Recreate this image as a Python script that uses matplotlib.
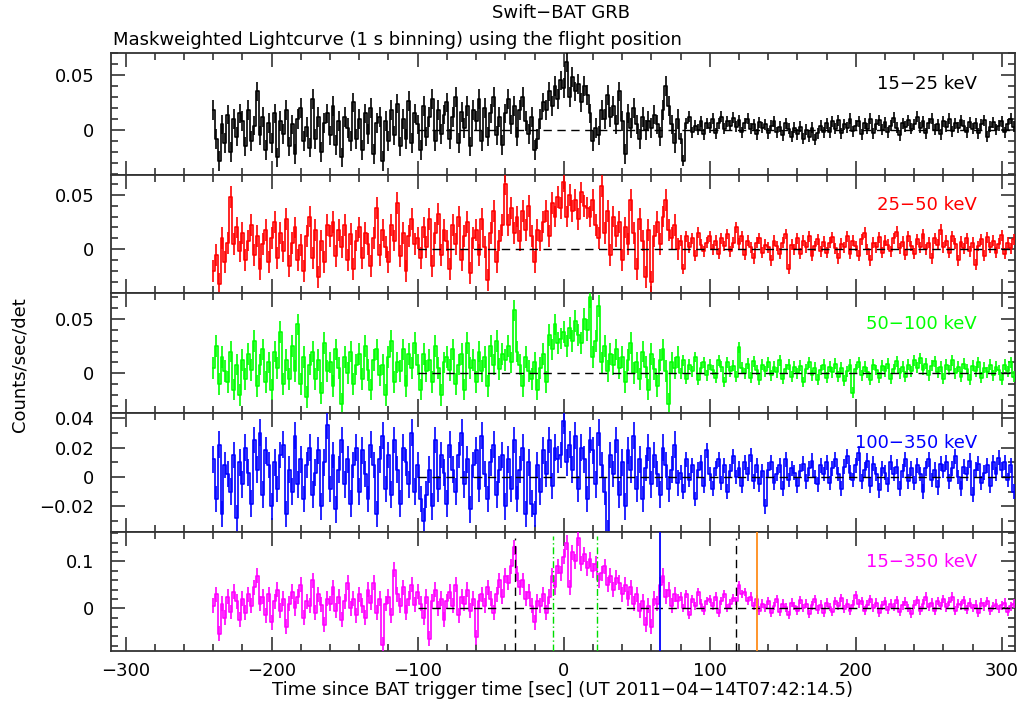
import matplotlib
matplotlib.use('Agg')
import matplotlib.pyplot as plt
from matplotlib.ticker import MultipleLocator
import numpy as np

# ---------------- data (rates in units of 1e-3 counts/sec/det, 2 s bins from -240 s) ----------------
t_first = -240
bin_sec = 2

band_15_25 = [
    18, -8, -28, 5, -12, 14, -20, 10, -6, 15,
    8, -15, 18, -10, 4, 35, -5, 12, -18, 6,
    -12, 15, -25, 8, -4, 18, -15, 5, -22, 10,
    20, -10, 3, -16, 28, -8, 12, -20, 6, 15,
    -5, 22, -14, 8, -25, 12, 2, -10, 25, -8,
    10, -18, 15, -4, 20, -22, 6, 12, -28, 8,
    -10, 18, -5, 24, -15, 10, -8, 26, -12, 15,
    5, -18, 22, -6, 12, 28, -10, 18, -4, 14,
    25, -8, 12, 30, -12, 16, 2, 22, -15, 18,
    8, 28, -10, 20, -6, 15, 30, -5, 12, -14,
    15, 28, 5, 22, -6, 18, 30, 8, -4, 12,
    -18, -8, 10, 25, 18, 35, 22, 40, 28, 45,
    38, 62, 30, 48, 35, 42, 25, 40, 32, 15,
    -10, 2, -5, 18, 10, 32, 12, 22, 5, 35,
    8, -22, 15, 2, 20, 5, -8, 12, 0, 8,
    2, 14, 5, -6, 18, 40, 22, 5, -12, 10,
    -8, -28, 6, 12, -2, 4, 0, 8, -4, 6,
    2, 10, -3, 6, 12, 1, 8, 4, 11, 3,
    9, -2, 6, 10, 1, 5, -4, 7, 2, 5,
    -3, 4, 8, -2, 3, -5, 6, 1, -6, 2,
    -4, 3, -8, 0, -6, 2, -9, -3, 4, -2,
    6, -2, 8, 1, 9, -3, 5, 2, 10, -1,
    4, 8, -4, 6, 1, 10, -3, 5, 9, 0,
    7, -2, 4, 11, 2, -5, 6, 3, 9, 1,
    5, 12, 2, 8, -3, 6, 10, 0, 5, -4,
    8, 3, 10, -1, 6, 2, 9, 4, -2, 7,
    1, 6, -3, 5, 9, -6, 3, 7, 0, 4,
    8, -2, 5, 10, 3,
]

band_25_50 = [
    -20, -5, -32, 10, -12, 6, 48, 5, 20, -2,
    15, -10, 8, 22, -5, 12, -18, 5, 18, -12,
    10, 25, -8, 15, -2, 28, -15, 6, 20, -10,
    4, -20, 12, 30, -8, 18, -25, 8, -12, 22,
    12, 25, -6, 18, 2, 22, -10, 14, -18, 8,
    20, -8, 15, 5, -15, 10, 38, -5, 18, 2,
    -12, 22, 8, 42, -6, 15, -20, 12, 28, 5,
    10, -8, 20, 2, 28, -15, 15, 32, -5, 18,
    8, -18, 22, 5, 30, -10, 12, 25, -22, 10,
    18, -5, 28, 2, -28, 15, 35, -12, 8, 22,
    60, 22, 38, 15, 30, 8, 35, 18, 40, 12,
    -12, 18, 8, 25, 35, 12, 42, 30, 48, 38,
    62, 30, 50, 35, 45, 28, 52, 40, 38, 30,
    45, 22, 10, 58, 15, 35, -5, 30, 12, 25,
    -10, 20, 5, 45, 15, -18, 28, 8, -25, 18,
    -30, 12, 25, 5, 30, 45, 18, 10, 22, 0,
    8, -18, 12, 2, 10, -6, 15, 4, -2, 6,
    12, 0, 8, -4, 10, 3, 14, -2, 6, 20,
    5, 12, -5, 8, 2, -8, 6, 10, -3, 4,
    2, -10, 8, 3, -4, 6, 14, -18, 4, 0,
    10, -4, 8, 2, 12, -6, 3, 9, -2, 7,
    -3, 6, 11, 1, -8, 5, 2, 12, -4, 8,
    3, -6, 9, 15, 0, -10, 6, 2, 11, -3,
    8, 4, -2, 10, 16, 1, 7, -5, 12, 3,
    -4, 9, 2, 14, 0, 6, -8, 10, 4, 18,
    2, 8, -3, 12, 5, -10, 7, 1, 10, -2,
    6, -14, 3, 9, -6, 11, 2, 8, -3, 5,
    13, -4, 6, 1, 9,
]

band_50_100 = [
    5, 25, -10, 15, 2, -8, 20, -15, 8, -20,
    12, -5, 18, 3, 30, -12, 8, 22, -8, 10,
    -15, 20, 5, 38, -10, 12, -5, 25, 2, 45,
    -10, 15, -22, 8, 20, -5, 12, -18, 28, 2,
    10, -12, 22, 5, -28, 15, 0, 20, -10, 8,
    18, -5, 25, 3, -15, 12, 22, -2, 8, -20,
    15, 30, -8, 10, 2, 22, -12, 18, 5, 28,
    8, -15, 18, 2, 12, -8, 25, 5, -20, 10,
    15, 3, 22, -10, 8, 18, -15, 28, 5, 12,
    -8, 20, 2, 15, -12, 25, 8, 30, 4, 18,
    12, 25, 10, 58, 20, 8, -12, 15, 2, -5,
    10, -15, 5, 18, -8, 35, 22, 45, 28, 32,
    38, 25, 42, 30, 48, 35, 28, 50, 40, 70,
    15, 30, 62, 10, 25, 2, 18, 8, 22, 5,
    15, -8, 12, 28, 0, 10, -5, 20, 6, -15,
    18, 4, -12, 12, 22, 2, -28, 10, 5, 15,
    0, 12, -5, 8, 2, 15, -6, 5, 10, -2,
    8, 3, -4, 12, 6, -8, 10, 2, 7, -3,
    24, 5, 0, 9, -4, 11, 3, -6, 8, 2,
    10, -2, 6, 1, 12, -5, 4, 8, -3, 6,
    0, 7, -8, 4, 10, -2, 5, -6, 3, 8,
    -4, 6, 1, 9, -3, 5, -7, 2, 8, -18,
    4, 10, -2, 6, 1, -6, 8, 3, -4, 7,
    2, 9, -5, 4, 11, 0, 6, -3, 8, 2,
    12, 5, 14, 3, 9, -2, 7, 11, 1, 6,
    -5, 8, 3, 12, 0, 6, -3, 9, 4, -6,
    7, 2, 10, -4, 5, 1, 8, -2, 6, 3,
    -6, 8, 2, 10, -3,
]

band_100_350 = [
    12, -15, 22, -25, 8, 2, -10, 15, -28, 10,
    -5, 20, 3, -18, 25, 5, 30, -12, 18, 8,
    -20, 10, -8, 15, 22, -25, 5, -10, 28, -5,
    12, -15, 8, 20, -12, 3, 18, -20, 10, 35,
    -8, 15, -22, 5, 25, -5, 12, -18, 8, 20,
    -10, 18, 2, -15, 22, 8, -25, 12, 28, -8,
    15, -12, 25, 5, -18, 20, 10, -5, 30, -10,
    8, -15, -30, -12, 5, -20, 25, -8, 15, 3,
    -18, 22, 5, -10, 15, 30, -5, 12, -22, 8,
    18, -8, 28, 2, -15, 10, 22, -12, 5, 15,
    -20, 12, -8, 25, -15, 5, 20, -25, 10, -18,
    -25, 8, -10, 18, 2, 25, -6, 20, 12, 15,
    38, 10, 22, 5, 28, -8, 20, 12, -15, 25,
    18, -5, 30, 8, -10, -38, 15, 2, 25, -12,
    10, -20, 18, 5, 28, -8, 12, -15, 6, 20,
    -5, 15, 2, -12, 20, 8, -8, 5, 22, -4,
    3, -10, 12, -2, 8, -15, 5, 10, -6, 18,
    2, -8, 6, 12, -4, 8, -10, 4, 14, 0,
    6, -6, 10, 2, 15, -3, 8, -5, 4, -20,
    5, 10, -4, 2, 8, -8, 12, -2, 6, 3,
    -6, 4, 9, -3, 6, 11, 0, -5, 8, 2,
    10, -4, 6, 12, 2, -8, 7, 14, 3, -2,
    8, 16, -3, 5, 11, -6, 9, 2, -9, 6,
    3, -5, 10, 2, 7, -8, 4, 12, -3, 6,
    -4, 8, 2, -10, 6, 12, -2, 5, -7, 9,
    4, 10, -3, 6, 14, 0, -8, 7, 2, 11,
    -12, 5, 9, -4, 3, 8, -6, 10, 2, 13,
    5, 10, -2, 8, -10,
]

band_15_350 = [
    5, 30, -55, 10, -20, 25, -8, 35, 15, -25,
    20, -10, 30, 5, 45, 70, 10, 25, -15, 30,
    -30, 15, 40, -5, 20, -40, 10, 35, 0, 25,
    50, -20, 15, 5, 60, -10, 30, 8, -35, 20,
    10, 45, -5, 25, -25, 15, 55, 0, 20, -15,
    30, 5, -20, 40, 12, 55, -10, 20, -78, 10,
    25, -15, 82, 30, 5, 45, -10, 20, 50, 8,
    35, 10, -20, 25, -65, 15, 40, 0, 20, -25,
    15, 35, 5, 50, -15, 25, 10, 40, -5, 20,
    -62, 15, 30, 5, 45, 20, -10, 30, 60, 25,
    70, 55, 90, 130, 75, 45, 60, 20, 35, 5,
    -30, 15, 5, 30, -10, 25, 70, 45, 90, 75,
    110, 140, 45, 120, 100, 150, 95, 115, 85, 105,
    80, 95, 60, 75, 90, 50, 70, 40, 65, 55,
    30, 50, 20, 45, 10, 30, -5, 15, -35, 5,
    -40, 20, 10, 50, 70, 25, 40, 5, 30, 15,
    25, 0, 30, -15, 20, 5, 35, 10, -5, 15,
    20, 5, 25, -10, 15, 30, 0, 10, 22, 15,
    50, 30, 35, 15, 25, 5, 20, -5, 10, 0,
    15, -10, 5, 20, -8, 10, 2, -15, 12, 5,
    -5, 18, 0, 10, -12, 6, 20, -3, 8, -10,
    12, 3, -8, 15, 5, 22, -2, 10, -6, 8,
    28, 10, 15, -5, 8, 20, 0, 12, -10, 6,
    15, -4, 10, 3, 18, -8, 6, 14, 0, -12,
    8, 18, -5, 10, 25, 3, 12, -6, 15, 5,
    20, 2, 14, 25, -5, 10, 6, 18, -3, 12,
    0, 8, -10, 12, 4, 16, -6, 5, 10, -2,
    6, 12, -8, 4, 10,
]

# typical 1-sigma error per band (1e-3 units): before / after the end of the slew
err_before = [9, 10, 10, 9, 16]
err_after = [5, 5, 5, 5, 9]
t_err_change = 80

band_labels = ["15\u221225 keV", "25\u221250 keV", "50\u2212100 keV", "100\u2212350 keV", "15\u2212350 keV"]
band_colors = ["#000000", "#ff0000", "#00ff00", "#0000ff", "#ff00ff"]

y_limits = [(-0.041, 0.070), (-0.040, 0.068), (-0.0366, 0.074), (-0.0373, 0.0434), (-0.0914, 0.163)]
y_tick_values = [[0, 0.05], [0, 0.05], [0, 0.05], [-0.02, 0, 0.02, 0.04], [0, 0.1]]
y_tick_labels = [["0", "0.05"], ["0", "0.05"], ["0", "0.05"],
                 ["\u22120.02", "0", "0.02", "0.04"], ["0", "0.1"]]
y_minor_step = [0.01, 0.01, 0.01, 0.01, 0.02]

x_tick_values = [-300, -200, -100, 0, 100, 200, 300]
x_tick_labels = ["\u2212300", "\u2212200", "\u2212100", "0", "100", "200", "300"]

# times of marker lines in the 15-350 keV panel
t_black_dashed = [-33.6, 118.3]
t_green_dashdot = [-7.1, 23.1]
t_blue = [66.0]
t_orange = [132.0]
zero_line_from = -100

title_line1 = "Swift\u2212BAT GRB"
title_line2 = "Maskweighted Lightcurve (1 s binning) using the flight position"
x_label = "Time since BAT trigger time [sec] (UT 2011\u221204\u221214T07:42:14.5)"
y_label = "Counts/sec/det"

# ---------------- figure ----------------
W, H = 1026, 709
fig = plt.figure(figsize=(W / 100, H / 100), dpi=100)
plt.rcParams['font.family'] = ['DejaVu Sans']
FS = 13

left_px, right_px = 111, 1015
edges_px = [53, 175, 293, 413, 532, 651]

series = [band_15_25, band_25_50, band_50_100, band_100_350, band_15_350]
frame_col = "#333333"

axes = []
for i in range(5):
    top, bot = edges_px[i], edges_px[i + 1]
    ax = fig.add_axes([left_px / W, 1 - bot / H, (right_px - left_px) / W, (bot - top) / H])
    axes.append(ax)
    vals = np.array(series[i], dtype=float) / 1000.0
    t = t_first + bin_sec * np.arange(len(vals))
    err = np.where(t < t_err_change, err_before[i], err_after[i]) / 1000.0
    ax.step(t, vals, where='mid', color=band_colors[i], lw=1.2, zorder=3)
    ax.errorbar(t, vals, yerr=err, fmt='none', ecolor=band_colors[i], elinewidth=1.2,
                capsize=0, zorder=3)
    ax.plot([zero_line_from, 320], [0, 0], color="black", lw=1.0, dashes=(6, 4), zorder=4)
    ax.set_xlim(-310, 309)
    ax.set_ylim(*y_limits[i])
    ax.set_xticks(x_tick_values)
    ax.xaxis.set_minor_locator(MultipleLocator(20))
    ax.set_yticks(y_tick_values[i])
    ax.set_yticklabels(y_tick_labels[i], fontsize=FS)
    ax.yaxis.set_minor_locator(MultipleLocator(y_minor_step[i]))
    ax.tick_params(which='both', direction='in', top=True, right=True, color=frame_col, width=1.2)
    ax.tick_params(which='major', length=10)
    ax.tick_params(which='minor', length=5)
    ax.tick_params(axis='y', pad=12)
    for s in ax.spines.values():
        s.set_color(frame_col)
        s.set_linewidth(1.3)
    if i < 4:
        ax.set_xticklabels([])
    else:
        ax.set_xticklabels(x_tick_labels, fontsize=FS)
        ax.tick_params(axis='x', pad=8)
    ax.text(0.958, 0.745, band_labels[i], transform=ax.transAxes, ha='right', va='center',
            color=band_colors[i], fontsize=FS)

axb = axes[4]
for tv in t_black_dashed:
    axb.axvline(tv, ymin=0, ymax=0.95, color="black", lw=1.0, dashes=(6, 4), zorder=5)
for tv in t_green_dashdot:
    axb.axvline(tv, ymin=0, ymax=0.97, color="#00dd00", lw=1.0, dashes=(5, 2, 1, 2), zorder=5)
for tv in t_blue:
    axb.axvline(tv, color="#0000ff", lw=1.3, zorder=5)
for tv in t_orange:
    axb.axvline(tv, color="#ff8c1a", lw=1.3, zorder=5)

fig.text(561 / W, 1 - 13 / H, title_line1, ha='center', va='center', fontsize=FS)
fig.text(113 / W, 1 - 40 / H, title_line2, ha='left', va='center', fontsize=FS)
fig.text(562 / W, 1 - 690 / H, x_label, ha='center', va='center', fontsize=FS)
fig.text(20 / W, 1 - 365 / H, y_label, ha='center', va='center', rotation=90, fontsize=FS)

fig.savefig("out.png", dpi=100)
